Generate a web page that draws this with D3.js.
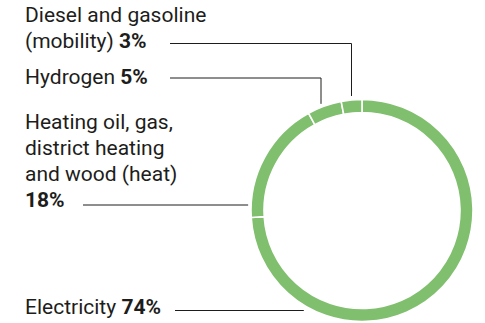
<!DOCTYPE html>
<html>
<head>
<meta charset="utf-8">
<script src="https://cdn.jsdelivr.net/npm/d3@7"></script>
<style>
  html, body { margin: 0; padding: 0; background: #fff; }
  svg { display: block; }
  text { font-family: Roboto, "Noto Sans", sans-serif; fill: #1d1d1b; }
</style>
</head>
<body>
<svg id="chart" width="485" height="323"></svg>
<script>
// Shares of final energy by carrier (percent), clockwise from the top
const categories = ["Electricity", "Heat", "Hydrogen", "Mobility"];
const values = [74, 18, 5, 3];
// Label text lines per category; the percentage is appended in bold to the last line
const labelLines = [
  ["Electricity"],
  ["Heating oil, gas,", "district heating", "and wood (heat)", ""],
  ["Hydrogen"],
  ["Diesel and gasoline", "(mobility)"]
];

// Layout
const W = 485, H = 323;
const cx = 362, cy = 210.5, rOuter = 111, rInner = 98;
const ringColor = "#80bf6e";
const lineColor = "#1d1d1b";
const fontSize = 21;
const lineHeight = 26;
const labelX = 25;
// baseline of the first line of each label
const labelBaseline = [314, 129, 84, 21.5];
// leader: y of the horizontal run, x where it starts, gap before the ring,
// and (for the ones that drop down) where along the segment it lands (0..1)
const leaderY = [310.5, 205, 78, 43.5];
const leaderX0 = [175, 83, 170, 170];
const leaderGap = [10, 3, 3.5, 4];
const leaderAlong = [null, null, 0.39, 0.5];

const svg = d3.select("#chart");
const g = svg.append("g").attr("transform", `translate(${cx},${cy})`);

const pie = d3.pie().sort(null).value(d => d)(values);
const arc = d3.arc().innerRadius(rInner).outerRadius(rOuter);

g.selectAll("path.seg")
  .data(pie)
  .join("path")
  .attr("class", "seg")
  .attr("d", arc)
  .attr("fill", ringColor)
  .attr("stroke", "#fff")
  .attr("stroke-width", 1.6);

// Labels
const labels = svg.selectAll("text.lbl")
  .data(categories)
  .join("text")
  .attr("class", "lbl")
  .attr("font-size", fontSize);

labels.each(function(c, i) {
  const t = d3.select(this);
  const lines = labelLines[i];
  lines.forEach((ln, j) => {
    const y = labelBaseline[i] + j * lineHeight;
    const last = j === lines.length - 1;
    if (ln) {
      t.append("tspan").attr("x", labelX).attr("y", y).text(ln);
    }
    if (last) {
      const b = t.append("tspan")
        .attr("font-weight", 700)
        .text((ln ? " " : "") + values[i] + "%");
      if (!ln) b.attr("x", labelX).attr("y", y);
    }
  });
});

// Leader lines
const leaders = svg.append("g")
  .attr("fill", "none")
  .attr("stroke", lineColor)
  .attr("stroke-width", 1);

categories.forEach((c, i) => {
  const y = leaderY[i];
  const x0 = leaderX0[i];
  const d = pie[i];
  if (leaderAlong[i] !== null) {
    // horizontal run, then drop down onto the segment's outer edge
    const a = d.startAngle + (d.endAngle - d.startAngle) * leaderAlong[i];
    const xr = cx + rOuter * Math.sin(a);
    const x1 = y % 1 ? Math.round(xr - 0.5) + 0.5 : Math.round(xr);
    const yEnd = cy - Math.sqrt(rOuter * rOuter - (x1 - cx) * (x1 - cx)) - leaderGap[i];
    leaders.append("path").attr("d", `M${x0},${y}H${x1}V${yEnd}`);
  } else {
    // horizontal run stopping just short of the ring
    const xRing = cx - Math.sqrt(rOuter * rOuter - (y - cy) * (y - cy));
    leaders.append("path").attr("d", `M${x0},${y}H${xRing - leaderGap[i]}`);
  }
});
</script>
</body>
</html>
